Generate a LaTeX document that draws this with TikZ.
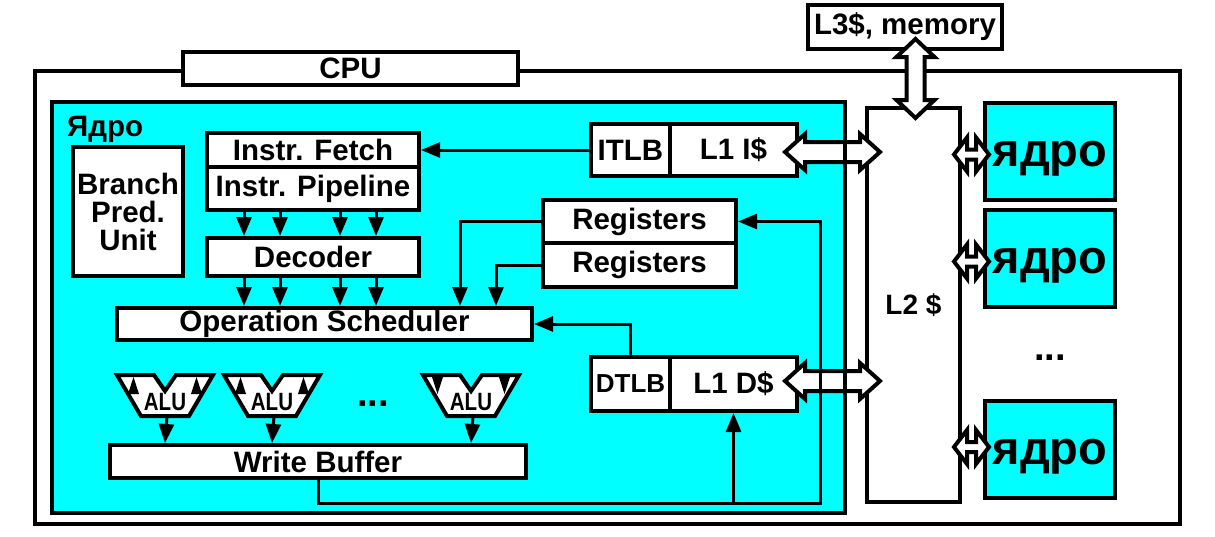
\documentclass[tikz,border=0pt]{standalone}
\usepackage{fontspec}
\setmainfont{Liberation Sans}
\usetikzlibrary{arrows.meta,calc}
\definecolor{cyanc}{RGB}{0,255,255}
\newcommand\mylbl{\bfseries\fontsize{29.5}{31}\selectfont}
\newcommand\hblock[5]{%
 \draw[blk] let \p1=(#1),\p2=(#2) in (\x1,\y1) -- (\x1+#5,\y1+#4) -- (\x1+#5,\y1+#3) -- (\x2-#5,\y1+#3) -- (\x2-#5,\y1+#4) -- (\x2,\y1) -- (\x2-#5,\y1-#4) -- (\x2-#5,\y1-#3) -- (\x1+#5,\y1-#3) -- (\x1+#5,\y1-#4) -- cycle;}
\newcommand\vblock[5]{%
 \draw[blk] let \p1=(#1),\p2=(#2) in (\x1,\y1) -- (\x1+#4,\y1-#5) -- (\x1+#3,\y1-#5) -- (\x1+#3,\y2+#5) -- (\x1+#4,\y2+#5) -- (\x1,\y2) -- (\x1-#4,\y2+#5) -- (\x1-#3,\y2+#5) -- (\x1-#3,\y1-#5) -- (\x1-#4,\y1-#5) -- cycle;}
\tikzset{
 box/.style={draw, line width=4pt, fill=white, inner sep=0pt, font=\mylbl, align=center},
 conn/.style={line width=3pt, -{Triangle[length=19pt,width=15pt]}},
 blk/.style={draw, line width=4pt, fill=white},
 corebox/.style={draw, line width=4pt, fill=cyanc, inner sep=0pt, minimum width=130pt, minimum height=97pt, text height=40pt, text depth=10pt, font=\bfseries\fontsize{47}{48}\selectfont},
 alubox/.style={draw, line width=4pt, fill=white, line join=miter},
 alutext/.style={font=\bfseries\fontsize{25}{25}\selectfont, inner sep=0pt},
 dotstext/.style={font=\bfseries\fontsize{38}{38}\selectfont, inner sep=0pt},
}
\begin{document}
\begin{tikzpicture}[x=1pt,y=-1pt]
\useasboundingbox (0,0) rectangle (1215,536);
% CPU frame
\node[draw, line width=4pt, minimum width=1145pt, minimum height=453pt, inner sep=0pt] (cpu) at (607.5,297.5) {};
\node[box, minimum width=335pt, minimum height=33pt] (cpulbl) at (350.5,68) {CPU};
\node[box, minimum width=194pt, minimum height=44pt] (l3) at (905,27) {L3\$, memory};
% core background
\node[fill=cyanc, minimum width=793pt, minimum height=411pt, inner sep=0pt] (core) at (448.5,307.5) {};
\node[font=\mylbl, anchor=base west, inner sep=0pt] (corelbl) at (67,136) {Ядро};
% blocks
\node[box, minimum width=110pt, minimum height=129pt, text width=110pt] (bpu) at (128,211.5) {Branch\\[-3pt]Pred.\\[-3pt]Unit};
\node[box, minimum width=212pt, minimum height=34pt] (fetch) at (313,150) {Instr. Fetch};
\node[box, minimum width=212pt, minimum height=43pt] (pipe) at (313,188.5) {Instr. Pipeline};
\node[box, minimum width=212pt, minimum height=38pt] (dec) at (313,257) {Decoder};
\node[box, minimum width=415pt, minimum height=32pt] (sched) at (324.5,324) {Operation Scheduler};
\node[box, minimum width=193pt, minimum height=43pt] (reg1) at (639.5,221.5) {Registers};
\node[box, minimum width=193pt, minimum height=44pt] (reg2) at (639.5,265) {Registers};
\node[box, minimum width=79pt, minimum height=52pt] (itlb) at (630.5,150) {ITLB};
\node[box, minimum width=127pt, minimum height=52pt] (l1i) at (733.5,150) {L1 I\$};
\node[box, minimum width=79pt, minimum height=54pt, font=\bfseries\fontsize{26}{28}\selectfont] (dtlb) at (630.5,384) {DTLB};
\node[box, minimum width=127pt, minimum height=54pt] (l1d) at (733.5,384) {L1 D\$};
\node[box, minimum width=416pt, minimum height=33pt] (wb) at (318,461.5) {Write Buffer};
% ALUs
\foreach \n/\cx in {1/165,2/272,3/471}{
 \begin{scope}[shift={(\cx,395)}]
  \draw[alubox] (-48,-20) -- (-11,-20) -- (0,-4) -- (11,-20) -- (48,-20) -- (24,21) -- (-24,21) -- cycle;
 \end{scope}
 \node[alutext] (alu\n) at (\cx,402) {\scalebox{0.82}[1]{ALU}};
}
\foreach \cx in {165,272}{
 \fill (\cx-37,394) -- (\cx-26,394) -- (\cx-31.5,377) -- cycle;
 \fill (\cx+26,394) -- (\cx+37,394) -- (\cx+31.5,377) -- cycle;
}
\fill (471-39,377) -- (471-28,377) -- (471-33.5,394) -- cycle;
\fill (471+28,377) -- (471+39,377) -- (471+33.5,394) -- cycle;
\node[dotstext] (dots1) at (373,404) {...};
% connectors
\foreach \d in {-69,-33,27,63}{
 \draw[conn] ([xshift=\d pt]pipe.south) -- ([xshift=\d pt]dec.north);
 \draw[conn] ([xshift=\d pt]dec.south) -- ([xshift=\d pt]dec.south |- sched.north);
}
\draw[conn] (itlb.west) -- (itlb.west -| fetch.east);
\coordinate (r1x) at (460,0);
\coordinate (r2x) at (496,0);
\draw[conn] (reg1.west) -| (r1x |- sched.north);
\draw[conn] (reg2.west) -| (r2x |- sched.north);
\draw[conn] (dtlb.north) |- (sched.east);
\foreach \n in {1,2,3}{
 \draw[conn] ($(alu\n)+(2,14)$) -- (alu\n |- wb.north);
}
% L2 and other cores
\node[box, minimum width=93pt, minimum height=394pt, font=\bfseries\fontsize{28}{30}\selectfont] (l2) at (913.5,305) {L2 \$};
\node[corebox] (c1) at (1050,151.5) {ядро};
\node[corebox] (c2) at (1050,258.5) {ядро};
\node[corebox] (c3) at (1050,449) {ядро};
\node[dotstext] (dots2) at (1050,358) {...};
% block arrows
\hblock{$(l1i.east)+(-14,2)$}{$(l2.west |- l1i.east)+(15,2)$}{10pt}{18pt}{20pt}
\hblock{$(l1d.east)+(-14,-3)$}{$(l2.west |- l1d.east)+(15,-3)$}{10pt}{18pt}{20pt}
\vblock{$(l2.north |- l3.south)+(2,-12)$}{$(l2.north)+(2,12)$}{9pt}{19pt}{18pt}
\hblock{$(l2.east |- c1.west)+(-8,3)$}{$(c1.west)+(6,3)$}{5pt}{17pt}{13pt}
\hblock{$(l2.east |- c2.west)+(-8,3)$}{$(c2.west)+(6,3)$}{5pt}{17pt}{13pt}
\hblock{$(l2.east |- c3.west)+(-8,-2)$}{$(c3.west)+(6,-2)$}{5pt}{17pt}{13pt}
% core border over arrows
\draw[line width=4pt] (core.north west) rectangle (core.south east);
% write-back loop
\coordinate (loopr) at (820,503);
\draw[conn] (wb.south) |- (loopr) |- (reg1.east);
\draw[conn] (l1d.south |- loopr) -- (l1d.south);
\end{tikzpicture}
\end{document}
